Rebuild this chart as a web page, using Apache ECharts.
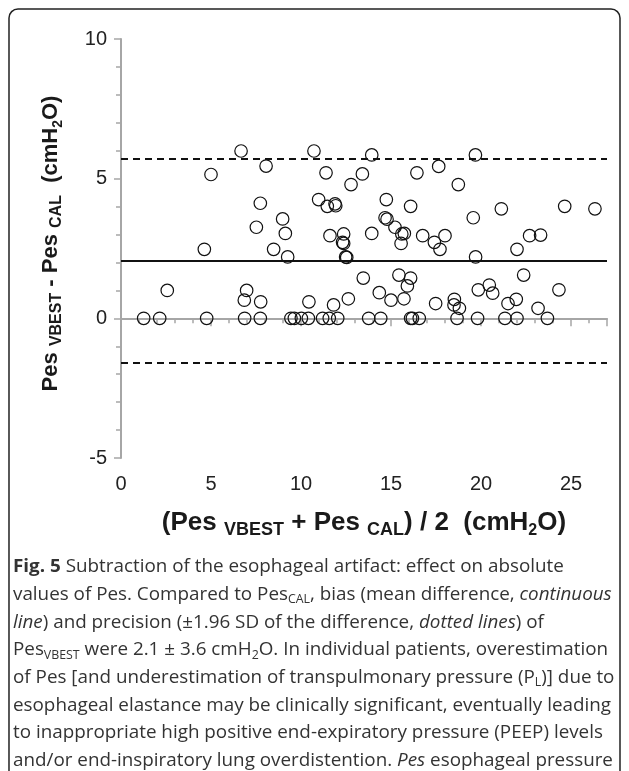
<!DOCTYPE html>
<html><head><meta charset="utf-8">
<script src="https://cdn.jsdelivr.net/npm/echarts@6/dist/echarts.min.js"></script>
<style>html,body{margin:0;padding:0;background:#fff}#c{width:629px;height:771px}</style>
</head><body><div id="c"></div>
<script>
// ---- data ----
const xTickLabels = [0, 5, 10, 15, 20, 25];
const yTickLabels = [-5, 0, 5, 10];
const meanX = [
  5.0, 6.67, 8.06, 10.72, 11.39, 13.93, 13.41, 12.78, 16.44, 17.65, 19.69, 18.74,
  7.74, 10.98, 11.46, 11.89, 11.93, 14.74, 16.09, 21.13, 24.65, 26.33,
  8.98, 14.67, 14.78, 19.57,
  7.52, 9.13, 4.63, 8.48, 9.26, 11.61, 12.37, 12.31, 12.37, 12.48, 12.54, 13.93, 15.22, 15.60, 15.74,
  15.56, 16.76, 17.41, 17.72, 18.00, 19.70, 22.00, 22.70, 23.31,
  2.57, 6.98, 6.85, 7.76, 10.44, 11.81, 12.63, 13.46, 14.35, 15.0, 15.44, 16.09, 15.91, 15.72,
  17.48, 18.52, 18.50, 18.80, 19.85, 20.46, 20.65, 21.50, 21.96, 22.37, 23.17, 24.33,
  1.26, 2.15, 4.76, 6.87, 7.74, 9.44, 9.63, 10.02, 10.41, 11.2, 11.57, 12.04, 13.76, 14.43,
  16.09, 16.19, 16.57, 18.67, 19.81, 21.33, 22.0, 23.69
];
const diffY = [
  5.15, 5.99, 5.45, 5.99, 5.21, 5.85, 5.17, 4.79, 5.21, 5.44, 5.85, 4.79,
  4.12, 4.25, 4.01, 4.10, 4.03, 4.25, 4.01, 3.92, 4.01, 3.92,
  3.56, 3.60, 3.55, 3.60,
  3.26, 3.04, 2.47, 2.47, 2.20, 2.96, 3.02, 2.72, 2.68, 2.20, 2.18, 3.04, 3.26, 3.02, 3.04,
  2.68, 2.96, 2.72, 2.47, 2.96, 2.20, 2.47, 2.96, 2.98,
  1.0, 1.0, 0.65, 0.59, 0.59, 0.48, 0.70, 1.44, 0.92, 0.65, 1.55, 1.44, 1.16, 0.70,
  0.53, 0.68, 0.48, 0.36, 1.02, 1.19, 0.90, 0.53, 0.68, 1.55, 0.36, 1.02,
  0, 0, 0, 0, 0, 0, 0, 0, 0, 0, 0, 0, 0, 0,
  0, 0, 0, 0, 0, 0, 0, 0
];
const bias = 2.07;
const upperLimit = 5.72;
const lowerLimit = -1.58;
const captionLines = [
  '{b|Fig. 5} Subtraction of the esophageal artifact: effect on absolute',
  'values of Pes. Compared to Pes{sub|CAL}, bias (mean difference, {i|continuous}',
  '{i|line}) and precision (±1.96 SD of the difference, {i|dotted lines}) of',
  'Pes{sub|VBEST} were 2.1 ± 3.6 cmH{sub|2}O. In individual patients, overestimation',
  'of Pes [and underestimation of transpulmonary pressure (P{sub|L})] due to',
  'esophageal elastance may be clinically significant, eventually leading',
  'to inappropriate high positive end-expiratory pressure (PEEP) levels',
  'and/or end-inspiratory lung overdistention. {i|Pes} esophageal pressure'
];

// ---- chart ----
const points = meanX.map((x, i) => [x, diffY[i]]);
const axisColor = '#a6a6a6';
const FF = '"Liberation Sans", Arial, sans-serif';
const yNameRich = {
  a: { fontSize: 22, fontWeight: 'bold', fontFamily: FF, color: '#1a1a1a', lineHeight: 28 },
  s: { fontSize: 16, fontWeight: 'bold', fontFamily: FF, color: '#1a1a1a', lineHeight: 16, padding: [12, 0, 0, 0] },
  s2: { fontSize: 14, fontWeight: 'bold', fontFamily: FF, color: '#1a1a1a', lineHeight: 14, padding: [14, 0, 0, 0] }
};
const xNameRich = {
  a: { fontSize: 26, fontWeight: 'bold', fontFamily: FF, color: '#1a1a1a', lineHeight: 32 },
  s: { fontSize: 18, fontWeight: 'bold', fontFamily: FF, color: '#1a1a1a', lineHeight: 18, padding: [14, 0, 0, 0] },
  s2: { fontSize: 16, fontWeight: 'bold', fontFamily: FF, color: '#1a1a1a', lineHeight: 16, padding: [16, 0, 0, 0] }
};
const capFF = '"Open Sans", sans-serif';
const capSize = 18.3;
const capRich = {
  b: { fontWeight: 'bold', fontSize: capSize, fontFamily: capFF, color: '#333', lineHeight: 22 },
  i: { fontStyle: 'italic', fontSize: capSize, fontFamily: capFF, color: '#333', lineHeight: 22 },
  sub: { fontSize: 12, fontFamily: capFF, color: '#333', lineHeight: 12, padding: [10, 0, 0, 0] }
};
const graphics = [{
  type: 'rect', silent: true,
  shape: { x: 9, y: 9, width: 611, height: 800, r: 9 },
  style: { fill: 'none', stroke: '#222', lineWidth: 1.5 }
}];
captionLines.forEach((t, i) => {
  graphics.push({
    type: 'text', x: 13, y: 567 + i * 27.7, scaleX: 1.03, silent: true,
    style: {
      text: t, rich: capRich, fontSize: capSize, fontFamily: capFF, fill: '#333',
      lineHeight: 22, align: 'left', verticalAlign: 'middle'
    }
  });
});

const chart = echarts.init(document.getElementById('c'), null, { renderer: 'canvas' });
chart.setOption({
  animation: false,
  backgroundColor: '#fff',
  grid: { left: 121, right: 22, top: 39, bottom: 313, containLabel: false },
  xAxis: [{
    type: 'value', min: 0, max: 27, interval: 1, position: 'bottom',
    axisLine: { lineStyle: { color: axisColor, width: 2 } },
    axisTick: { length: 5, lineStyle: { color: axisColor, width: 1.5 } },
    splitLine: { show: false },
    axisLabel: {
      formatter: v => xTickLabels.includes(v) ? String(v) : '',
      fontSize: 20, color: '#222', fontFamily: FF, margin: 16, showMaxLabel: false
    },
    name: '{a|(Pes }{s|VBEST}{a| + Pes }{s|CAL}{a|) / 2  (cmH}{s2|2}{a|O)}',
    nameLocation: 'middle', nameGap: 49,
    nameTextStyle: { rich: xNameRich }
  }, {
    type: 'value', min: 0, max: 27, interval: 5, position: 'bottom',
    axisLine: { show: false },
    axisTick: { length: 8, lineStyle: { color: axisColor, width: 1.5 } },
    axisLabel: { show: false }, splitLine: { show: false }
  }],
  yAxis: [{
    type: 'value', min: -5, max: 10, interval: 1, position: 'left',
    axisLine: { lineStyle: { color: axisColor, width: 2 } },
    axisTick: { length: 5, lineStyle: { color: axisColor, width: 1.5 } },
    splitLine: { show: false },
    axisLabel: {
      formatter: v => yTickLabels.includes(v) ? String(v) : '',
      fontSize: 20, color: '#222', fontFamily: FF, margin: 14
    },
    name: '{a|Pes }{s|VBEST}{a| - Pes }{s|CAL}{a|  (cmH}{s2|2}{a|O)}',
    nameLocation: 'middle', nameGap: 56, nameRotate: 90,
    nameTextStyle: { rich: yNameRich, padding: [0, 0, 0, 10] }
  }, {
    type: 'value', min: -5, max: 10, interval: 5, position: 'left',
    axisLine: { show: false },
    axisTick: { length: 7, lineStyle: { color: axisColor, width: 1.5 } },
    axisLabel: { show: false }, splitLine: { show: false }
  }],
  series: [{
    type: 'scatter', xAxisIndex: 0, yAxisIndex: 0,
    data: points, symbol: 'circle', symbolSize: 12.5,
    itemStyle: { color: 'rgba(255,255,255,0)', borderColor: '#111', borderWidth: 1.2, opacity: 1 },
    markLine: {
      silent: true, symbol: ['none', 'none'], label: { show: false },
      data: [
        { yAxis: bias, lineStyle: { type: 'solid', width: 2, color: '#111' } },
        { yAxis: upperLimit, lineStyle: { type: [7, 5], width: 2, color: '#111' } },
        { yAxis: lowerLimit, lineStyle: { type: [7, 5], width: 2, color: '#111' } }
      ]
    }
  }],
  graphic: graphics
});
</script>
</body></html>
